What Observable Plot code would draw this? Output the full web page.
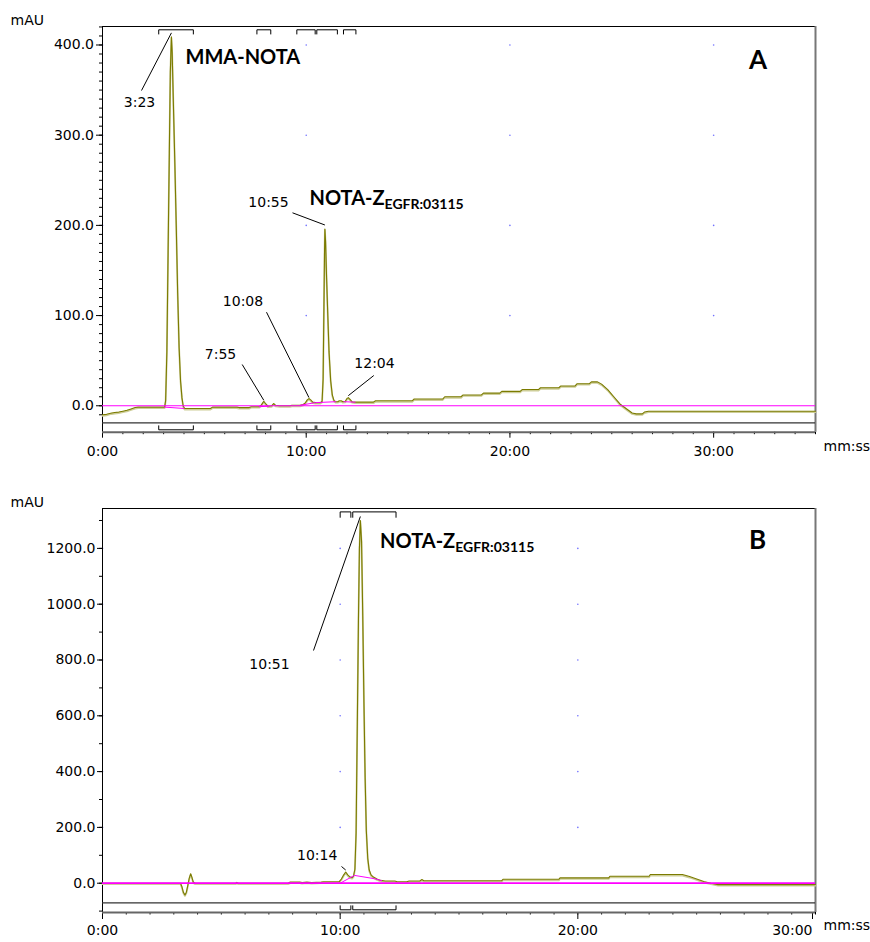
<!DOCTYPE html>
<html>
<head>
<meta charset="utf-8">
<script src="https://cdn.jsdelivr.net/npm/d3@7"></script>
<script src="https://cdn.jsdelivr.net/npm/@observablehq/plot@0.6"></script>
<style>
  body { margin: 0; background: #fff; }
  #chart { width: 870px; }
  #chart svg { display: block; overflow: visible; }
</style>
</head>
<body>
<div id="chart"></div>
<script>
// ---- Chromatogram A: crude labelling mixture (time in min, absorbance in mAU)
const traceA = [
  [0,-10],[0.2,-9.5],[0.35,-8.5],[0.45,-8],[0.6,-7.5],[0.8,-7],[1.0,-6],[1.2,-5],[1.4,-3.5],[1.6,-2],
  [1.75,-1.5],[2.5,-1.5],[3.05,-1.5],[3.1,6],[3.16,60],[3.22,170],[3.28,280],[3.33,370],[3.383,409],
  [3.42,392],[3.48,335],[3.55,270],[3.62,200],[3.69,125],[3.76,65],[3.83,28],[3.9,9],[3.96,0],[4.03,-3],
  [5.3,-3],[5.4,-1.5],[6.6,-1.5],[6.7,-2],[7.2,-2],[7.3,-1],[7.7,-1],[7.8,1],[7.917,5],[8.02,2],
  [8.12,-0.5],[8.3,0],[8.4,2.5],[8.5,0.5],[8.7,0],[9.2,0],[9.3,0.5],[9.7,0.5],[9.85,1.5],[9.95,3],
  [10.05,6.5],[10.133,8],[10.22,6.5],[10.32,4],[10.45,3.5],[10.7,3.5],[10.78,5],[10.83,30],[10.87,110],
  [10.9,172],[10.917,196],[10.95,182],[11.0,142],[11.06,100],[11.12,60],[11.2,28],[11.28,12],[11.36,6],
  [11.45,4.5],[11.55,4.5],[11.62,5.5],[11.72,5.5],[11.8,4.5],[11.92,5],[12.0,8],[12.067,9],[12.15,7],
  [12.25,4.5],[12.4,4],[13.3,4],[13.4,5.5],[15.2,5.5],[15.3,7.5],[16.7,7.5],[16.8,10],[17.6,10],[17.7,12],
  [18.6,12],[18.7,14],[19.5,14],[19.6,16],[20.5,16],[20.6,18],[21.4,18],[21.5,20],[22.4,20],[22.5,22],
  [23.2,22],[23.3,24.5],[23.9,24.5],[24.0,26.5],[24.3,26.5],[24.5,24],[24.8,18],[25.1,10],[25.4,2],
  [25.7,-3],[26.0,-8],[26.2,-9],[26.5,-9],[26.6,-7],[26.8,-6],[35,-6]
];
const baselinesA = [
  [[3.05,-1.5],[4.0,-3]],
  [[7.7,-1],[8.15,-0.5]],
  [[9.7,0.5],[10.45,3.5],[11.45,4.5]],
  [[11.85,4.5],[12.4,4]]
];
const peakLabelsA = ["3:23", "7:55", "10:08", "10:55", "12:04"];
const peakValuesA = [409, 5, 8, 196, 9];
const windowsA = [[2.76,4.46],[7.58,8.26],[9.54,10.44],[10.52,11.53],[11.83,12.44]];
const yMajorA = [0, 100, 200, 300, 400];

// ---- Chromatogram B: purified conjugate
const traceB = [
  [0,0],[3.28,0],[3.34,-12],[3.4,-32],[3.47,-42],[3.53,-32],[3.59,-8],[3.65,18],[3.71,34],[3.76,22],
  [3.82,4],[3.9,0],[5.6,0],[5.65,3],[5.72,0],[7.8,0],[7.9,4],[8.3,4],[8.4,2],[8.6,4],[8.8,2.5],[9.2,4],
  [9.3,5],[9.95,5],[10.05,15],[10.15,30],[10.233,40],[10.32,30],[10.42,22],[10.5,20],[10.56,25],
  [10.62,50],[10.67,180],[10.72,560],[10.77,950],[10.81,1200],[10.85,1300],[10.9,1225],[10.95,960],
  [11.0,650],[11.05,380],[11.1,190],[11.16,90],[11.22,48],[11.3,30],[11.4,22],[11.55,15],[11.7,10],
  [11.9,8],[12.3,8],[12.4,5],[12.8,5],[12.9,8],[13.35,8],[13.44,13],[13.52,9],[16.8,9],[16.85,14],
  [19.2,14],[19.25,19],[21.3,19],[21.35,25],[23.0,25],[23.05,31],[24.4,31],[24.7,24],[25.0,15],
  [25.3,6],[25.6,0],[25.9,-5],[30,-5]
];
const baselinesB = [
  [[10.0,0],[10.6,28],[11.45,16],[11.75,9]]
];
const peakLabelsB = ["10:14", "10:51"];
const peakValuesB = [40, 1300];
const windowsB = [[10.0,10.45],[10.53,12.35]];
const yMajorB = [0, 200, 400, 600, 800, 1000, 1200];

// ---- styling
const FONT = "'DejaVu Sans', Verdana, sans-serif";
const BOLD_FONT = "Lato, 'Open Sans', sans-serif";
const OLIVE = "#7b7b00", OLIVE_SHADE = "#cdcd98", MAGENTA = "#ff00ff";

const toMinutes = s => { const [m, sec] = s.split(":").map(Number); return m + sec / 60; };
const mmss = m => `${m}:00`;

function chromatogram(cfg) {
  const width = 870, marginLeft = 102, marginRight = 55;
  const {height, marginTop, marginBottom, xMax, yDomain} = cfg;
  // pixel helpers for annotation placement (same mapping as the Plot scales)
  const xs = d3.scaleLinear([0, xMax], [marginLeft, width - marginRight]);
  const ys = d3.scaleLinear(yDomain, [height - marginBottom, marginTop]);

  const trace = cfg.trace.map(([t, v]) => ({t, v}));
  const baselines = cfg.baselines.flatMap((seg, i) => seg.map(([t, v]) => ({seg: i, t, v})));
  const bracket = (wins, edgePx, legPx) => wins.flatMap(([a, b], i) => {
    const e = ys.invert(edgePx), l = ys.invert(legPx);
    return [{w: i, t: a, v: l}, {w: i, t: a, v: e}, {w: i, t: b, v: e}, {w: i, t: b, v: l}];
  });
  const peaks = cfg.peakLabels.map((label, i) => {
    const t = toMinutes(label), v = cfg.peakValues[i], L = cfg.labelLayout[i];
    return {
      label, t, v,
      lt: xs.invert(L.at[0]), lv: ys.invert(L.at[1]),
      st: xs.invert(L.from[0]), sv: ys.invert(L.from[1]),
      ev: ys.invert(ys(v) - L.gap)
    };
  });
  const titles = cfg.titles.map(d => ({...d, t: xs.invert(d.at[0]), v: ys.invert(d.at[1])}));
  const grid = cfg.gridX.flatMap(t => cfg.gridY.map(v => ({t, v})));
  const lastTick = cfg.xMajor[cfg.xMajor.length - 1];
  const innerTicks = cfg.lastTickEnd ? cfg.xMajor.slice(0, -1) : cfg.xMajor;

  const titleMark = anchor => Plot.text(titles.filter(d => d.anchor === anchor), {
    x: "t", y: "v", text: "text", fontFamily: BOLD_FONT, fontWeight: "bold",
    fontSize: d => d.size, textAnchor: anchor, fill: "#000"
  });

  const svg = Plot.plot({
    width, height, marginTop, marginBottom, marginLeft, marginRight,
    x: {domain: [0, xMax], label: null},
    y: {domain: yDomain, label: null},
    style: {fontFamily: FONT, fontSize: "14px", background: "#fff", color: "#000", overflow: "visible"},
    marks: [
      Plot.dot(grid, {x: "t", y: "v", r: 0.8, fill: "#7070ff", stroke: null}),
      Plot.axisY({ticks: cfg.yMinor, tickSize: 3, fill: "none", label: null}),
      Plot.axisY({ticks: cfg.yMajor, tickSize: cfg.yTick, tickPadding: cfg.yPad,
                  tickFormat: d => d.toFixed(1), label: null}),
      Plot.axisX({ticks: d3.range(0, xMax + 1), tickSize: 2.5, fill: "none", label: null}),
      Plot.axisX({ticks: innerTicks, tickSize: cfg.xTick, tickPadding: cfg.xPad,
                  tickFormat: mmss, label: null}),
      cfg.lastTickEnd
        ? Plot.axisX({ticks: [lastTick], tickSize: cfg.xTick, tickPadding: cfg.xPad,
                      tickFormat: mmss, textAnchor: "end", dx: -3, label: null})
        : null,
      Plot.ruleY([yDomain[1]], {stroke: "#000"}),
      Plot.ruleX([0], {stroke: "#000"}),
      Plot.ruleX([xMax], {stroke: "#777", strokeWidth: 2}),
      Plot.ruleY([ys.invert(cfg.stripPx)], {stroke: "#333", strokeWidth: 1.3}),
      Plot.ruleY([yDomain[0]], {stroke: "#666", strokeWidth: 2}),
      Plot.line(bracket(cfg.windows, cfg.topBracketPx[0], cfg.topBracketPx[1]),
                {x: "t", y: "v", z: "w", stroke: "#000", strokeWidth: 1}),
      Plot.line(bracket(cfg.windows, cfg.bottomBracketPx[0], cfg.bottomBracketPx[1]),
                {x: "t", y: "v", z: "w", stroke: "#000", strokeWidth: 1}),
      Plot.line(trace, {x: "t", y: "v", stroke: OLIVE_SHADE, strokeWidth: 1.8, dy: 1}),
      Plot.line(trace, {x: "t", y: "v", stroke: OLIVE, strokeWidth: 1.1}),
      Plot.ruleY([0], {stroke: MAGENTA, strokeWidth: cfg.zeroWidth}),
      Plot.line(baselines, {x: "t", y: "v", z: "seg", stroke: MAGENTA, strokeWidth: 1}),
      Plot.link(peaks, {x1: "st", y1: "sv", x2: "t", y2: "ev", stroke: "#000", strokeWidth: 1}),
      Plot.text(peaks, {x: "lt", y: "lv", text: "label", fontSize: 14, fill: "#000"}),
      titleMark("start"),
      titleMark("middle"),
      Plot.text(["mAU"], {frameAnchor: "top-left", dx: -92, dy: cfg.unitDy, textAnchor: "start", fontSize: 14}),
      Plot.text(["mm:ss"], {frameAnchor: "bottom-right", dx: 8, dy: cfg.timeDy, textAnchor: "start", fontSize: 14})
    ]
  });

  // subscript for the conjugate name
  d3.select(svg).selectAll("text").each(function () {
    const title = cfg.titles.find(d => d.sub && d.text === this.textContent);
    if (title) {
      d3.select(this).append("tspan")
        .attr("dy", "0.28em")
        .attr("font-size", title.subSize)
        .text(title.sub);
    }
  });
  return svg;
}

const chart = document.getElementById("chart");

chart.appendChild(chromatogram({
  height: 470, marginTop: 26, marginBottom: 38.3,
  xMax: 35, yDomain: [-29.3, 420.5],
  trace: traceA, baselines: baselinesA,
  peakLabels: peakLabelsA, peakValues: peakValuesA, windows: windowsA,
  yMajor: yMajorA, yMinor: d3.range(-10, 421, 10), yTick: 6, yPad: 2.5,
  xMajor: [0, 10, 20, 30], xTick: 6, xPad: 7.4, lastTickEnd: false,
  gridX: [0, 10, 20, 30], gridY: [100, 200, 300, 400],
  stripPx: 422.3, topBracketPx: [29.3, 33.5], bottomBracketPx: [429.3, 425.3],
  zeroWidth: 1.2, unitDy: -11, timeDy: 19,
  labelLayout: [
    {at: [139, 102], from: [141, 90], gap: 4},
    {at: [220, 354], from: [241.7, 364], gap: 1},
    {at: [242.5, 300.7], from: [266, 311.7], gap: 1},
    {at: [268, 202], from: [292, 212.3], gap: 4},
    {at: [374, 362.7], from: [373.3, 375], gap: 2}
  ],
  titles: [
    {text: "MMA-NOTA", at: [185, 57.5], size: 20, anchor: "start"},
    {text: "NOTA-Z", sub: "EGFR:03115", subSize: 14, at: [309, 198], size: 20, anchor: "start"},
    {text: "A", at: [757.5, 60.5], size: 26, anchor: "middle"}
  ]
}));

chart.appendChild(chromatogram({
  height: 472, marginTop: 38, marginBottom: 30,
  xMax: 30, yDomain: [-105, 1343],
  trace: traceB, baselines: baselinesB,
  peakLabels: peakLabelsB, peakValues: peakValuesB, windows: windowsB,
  yMajor: yMajorB, yMinor: d3.range(-100, 1301, 100), yTick: 5, yPad: 2,
  xMajor: [0, 10, 20, 30], xTick: 7, xPad: 5.4, lastTickEnd: true,
  gridX: [0, 10, 20], gridY: [200, 400, 600, 800, 1000, 1200],
  stripPx: 432.3, topBracketPx: [41.4, 46.8], bottomBracketPx: [439.3, 435.3],
  zeroWidth: 1.8, unitDy: -11, timeDy: 17.5,
  labelLayout: [
    {at: [316.7, 385], from: [341, 396], gap: 2},
    {at: [269, 194], from: [313, 180], gap: 4}
  ],
  titles: [
    {text: "NOTA-Z", sub: "EGFR:03115", subSize: 14, at: [379.6, 71.5], size: 20, anchor: "start"},
    {text: "B", at: [757, 70.5], size: 26, anchor: "middle"}
  ]
}));
</script>
</body>
</html>
